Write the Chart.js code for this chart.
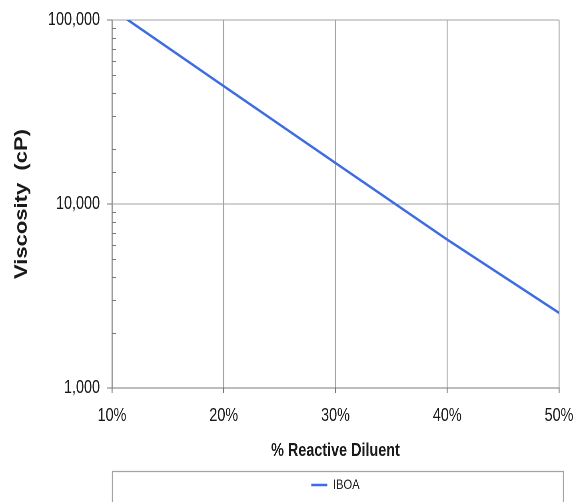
<!DOCTYPE html>
<html lang="en">
<head>
  <meta charset="UTF-8">
  <title>Viscosity vs % Reactive Diluent</title>
  <style>
    html, body { margin: 0; padding: 0; background: #fff; overflow: hidden; }
    /* the original picture is squeezed sideways, so draw wide and squeeze the same way */
    #wrap { width: 729px; height: 502px; transform: scaleX(0.7997); transform-origin: 0 0; }
  </style>
  <script src="https://cdn.jsdelivr.net/npm/chart.js"></script>
</head>
<body>
  <div id="wrap">
    <canvas id="viscChart" width="729" height="502"></canvas>
  </div>

  <script>
    // data
    const diluentPct = [10, 20, 30, 40, 50];
    const viscIBOA = [114800, 43700, 16700, 6400, 2560];
    const xTickLabels = [10, 20, 30, 40, 50];
    const yTickLabels = [1000, 10000, 100000];

    const font = "'Liberation Sans', Arial, sans-serif";
    const gridGray = '#a3a3a3';
    const axisGray = '#787878';

    // minor ticks on the y axis point inward; legend gets a frame
    const extras = {
      id: 'extras',
      afterDraw(chart) {
        const ctx = chart.ctx;
        const area = chart.chartArea;
        const y = chart.scales.y;
        ctx.save();
        ctx.strokeStyle = axisGray;
        ctx.lineWidth = 1;
        y.ticks.forEach(t => {
          if (yTickLabels.includes(t.value)) return;
          const py = Math.round(y.getPixelForValue(t.value)) + 0.5;
          ctx.beginPath();
          ctx.moveTo(area.left, py);
          ctx.lineTo(area.left + 5, py);
          ctx.stroke();
        });

        const lg = chart.legend;
        ctx.strokeStyle = gridGray;
        ctx.lineWidth = 1.25;
        ctx.beginPath();
        ctx.rect(area.left + 0.5, lg.top + 3.5, area.right - area.left + 5, 60);
        ctx.stroke();
        ctx.restore();
      }
    };

    const ctx = document.getElementById('viscChart').getContext('2d');
    new Chart(ctx, {
      type: 'line',
      data: {
        datasets: [{
          label: 'IBOA',
          data: diluentPct.map((x, i) => ({ x: x, y: viscIBOA[i] })),
          borderColor: '#3d6ce3',
          backgroundColor: '#3d6ce3',
          borderWidth: 2.6,
          pointRadius: 0,
          tension: 0,
          clip: 0,
          pointStyle: 'line'
        }]
      },
      options: {
        responsive: false,
        animation: false,
        devicePixelRatio: 2,
        layout: { padding: { left: 0, right: 30, top: 20, bottom: 0 } },
        plugins: {
          tooltip: { enabled: false },
          legend: {
            position: 'bottom',
            fullSize: false,
            labels: {
              usePointStyle: true,
              pointStyleWidth: 20,
              padding: 10,
              color: '#222',
              font: { family: font, size: 14 }
            }
          }
        },
        scales: {
          x: {
            type: 'linear',
            min: 10,
            max: 50,
            afterBuildTicks: s => { s.ticks = xTickLabels.map(v => ({ value: v })); },
            afterFit: s => { s.height = 80; s.paddingLeft = 0; s.paddingRight = 0; },
            ticks: {
              padding: 12,
              color: '#1a1a1a',
              font: { family: font, size: 18 },
              callback: v => v + '%'
            },
            grid: { color: gridGray, tickColor: axisGray, tickLength: 5, lineWidth: 1.25 },
            border: { color: axisGray, width: 1 },
            title: {
              display: true,
              text: '% Reactive Diluent',
              color: '#1a1a1a',
              font: { family: font, size: 18, weight: 'bold' },
              padding: { top: 0, bottom: 6 }
            }
          },
          y: {
            type: 'logarithmic',
            min: 1000,
            max: 100000,
            afterFit: s => { s.width = 140; },
            ticks: {
              autoSkip: false,
              padding: 9,
              color: '#1a1a1a',
              font: { family: font, size: 18 },
              callback: v => yTickLabels.includes(v) ? v.toLocaleString('en-US') : ''
            },
            grid: {
              tickLength: 6,
              color: c => (c.tick && yTickLabels.includes(c.tick.value)) ? gridGray : 'rgba(0,0,0,0)',
              tickColor: c => (c.tick && yTickLabels.includes(c.tick.value)) ? axisGray : 'rgba(0,0,0,0)'
            },
            border: { color: axisGray, width: 1.25 },
            title: {
              display: true,
              text: 'Viscosity  (cP)',
              color: '#1a1a1a',
              font: { family: font, size: 22, weight: 'bold' },
              padding: { top: 14, bottom: 0 }
            }
          }
        }
      },
      plugins: [extras]
    });
  </script>
</body>
</html>
